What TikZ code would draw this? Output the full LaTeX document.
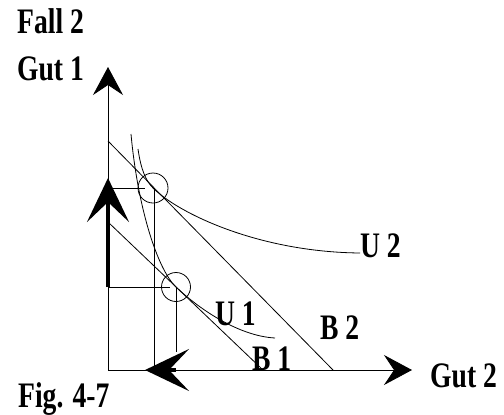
\documentclass[tikz,border=0pt]{standalone}
\usepackage{fontspec}
\setmainfont{Liberation Serif}
\usetikzlibrary{arrows.meta}

\begin{document}
\begin{tikzpicture}[
  x=1bp, y=1bp,
  every node/.style={font=\bfseries\fontsize{36}{36}\selectfont, inner sep=0pt, anchor=base west, xscale=0.77},
  axis/.style={line width=0.8bp, -{Stealth[length=28bp, width=30bp, inset=10bp]}},
  thinline/.style={line width=0.8bp},
  shiftarrow/.style={line width=4bp, -{Stealth[length=44bp, width=42bp, inset=20bp]}}
]
  \useasboundingbox (-108,-44) rectangle (396,370);

  % Points
  \coordinate (O) at (0,0);
  \coordinate (ytop) at (0,303);
  \coordinate (xend) at (304,0);
  \coordinate (T1) at (68,83);
  \coordinate (T2) at (45,182);
  \coordinate (B1a) at (0,148);
  \coordinate (B1b) at (155,0);
  \coordinate (B2a) at (0,229);
  \coordinate (B2b) at (225,0);
  \coordinate (U1a) at (23,236);
  \coordinate (U1b) at (167,32);
  \coordinate (U2a) at (30,221);
  \coordinate (U2b) at (252,117);

  % Axes
  \draw [axis] (O) -- (ytop);
  \draw [axis] (O) -- (xend);

  % Budget lines
  \draw [thinline] (B1a) -- (B1b);
  \draw [thinline] (B2a) -- (B2b);

  % Indifference curves
  \draw [thinline] (U1a) .. controls (30,160) and (50,100) .. (T1) .. controls (90,62) and (130,34) .. (U1b);
  \draw [thinline] (U2a) .. controls (33,200) and (38,189) .. (T2) .. controls (70,157) and (150,118) .. (U2b);

  % Optimum points
  \draw [thinline] (T1) circle[radius=14.5];
  \draw [thinline] (T2) circle[radius=15];
  \draw [thinline] (0,182) -- (37,182);
  \draw [thinline] (46,182) -- (46,0);
  \draw [thinline] (0,83) -- (62,83);
  \draw [thinline] (T1) -- (68,18);

  % Shifts
  \draw [shiftarrow] (0,83) -- (0,192);
  \draw [shiftarrow] (68,0) -- (37,0);

  % Labels
  \node (fall) at (-91,337) {Fall 2};
  \node (gut1) at (-91,290) {Gut 1};
  \node (gut2) at (322,-17) {Gut 2};
  \node (fig) at (-90,-37) {Fig. 4-7};
  \node (u2) at (252,113) {U 2};
  \node (b2) at (212,31) {B 2};
  \node (u1) at (107,45) {U 1};
  \node (b1) at (144,0) {B 1};
\end{tikzpicture}
\end{document}
